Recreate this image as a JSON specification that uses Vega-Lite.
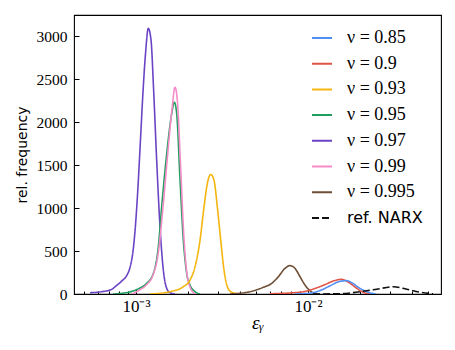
{
  "$schema": "https://vega.github.io/schema/vega-lite/v6.json",
  "width": 367,
  "height": 279,
  "autosize": {"type": "none"},
  "padding": {"left": 74, "top": 15, "right": 14, "bottom": 56},
  "background": "white",
  "config": {
    "view": {"stroke": "black", "strokeWidth": 1.1},
    "axis": {"domain": false, "grid": false, "tickColor": "black", "labelColor": "black", "titleColor": "black"}
  },
  "data": {
    "values": [
      {"s": "ν = 0.97", "x": 0.000540, "y": 15},
      {"s": "ν = 0.97", "x": 0.000632, "y": 27},
      {"s": "ν = 0.97", "x": 0.000722, "y": 54},
      {"s": "ν = 0.97", "x": 0.000772, "y": 100},
      {"s": "ν = 0.97", "x": 0.000826, "y": 150},
      {"s": "ν = 0.97", "x": 0.000883, "y": 215},
      {"s": "ν = 0.97", "x": 0.000923, "y": 310},
      {"s": "ν = 0.97", "x": 0.000961, "y": 500},
      {"s": "ν = 0.97", "x": 0.000993, "y": 800},
      {"s": "ν = 0.97", "x": 0.001027, "y": 1250},
      {"s": "ν = 0.97", "x": 0.001062, "y": 1800},
      {"s": "ν = 0.97", "x": 0.001098, "y": 2350},
      {"s": "ν = 0.97", "x": 0.001136, "y": 2800},
      {"s": "ν = 0.97", "x": 0.001179, "y": 3090},
      {"s": "ν = 0.97", "x": 0.001223, "y": 2950},
      {"s": "ν = 0.97", "x": 0.001264, "y": 2400},
      {"s": "ν = 0.97", "x": 0.001319, "y": 1550},
      {"s": "ν = 0.97", "x": 0.001379, "y": 780},
      {"s": "ν = 0.97", "x": 0.001441, "y": 280},
      {"s": "ν = 0.97", "x": 0.001508, "y": 66},
      {"s": "ν = 0.97", "x": 0.001577, "y": 15},
      {"s": "ν = 0.97", "x": 0.001685, "y": 0},

      {"s": "ν = 0.95", "x": 0.000735, "y": 0},
      {"s": "ν = 0.95", "x": 0.000923, "y": 25},
      {"s": "ν = 0.95", "x": 0.001055, "y": 70},
      {"s": "ν = 0.95", "x": 0.001154, "y": 124},
      {"s": "ν = 0.95", "x": 0.001261, "y": 240},
      {"s": "ν = 0.95", "x": 0.001348, "y": 549},
      {"s": "ν = 0.95", "x": 0.001410, "y": 1013},
      {"s": "ν = 0.95", "x": 0.001508, "y": 1632},
      {"s": "ν = 0.95", "x": 0.001613, "y": 2100},
      {"s": "ν = 0.95", "x": 0.001670, "y": 2231},
      {"s": "ν = 0.95", "x": 0.001724, "y": 2096},
      {"s": "ν = 0.95", "x": 0.001803, "y": 1322},
      {"s": "ν = 0.95", "x": 0.001884, "y": 626},
      {"s": "ν = 0.95", "x": 0.001971, "y": 240},
      {"s": "ν = 0.95", "x": 0.002061, "y": 104},
      {"s": "ν = 0.95", "x": 0.002203, "y": 27},
      {"s": "ν = 0.95", "x": 0.002356, "y": 0},

      {"s": "ν = 0.99", "x": 0.000948, "y": 0},
      {"s": "ν = 0.99", "x": 0.001055, "y": 50},
      {"s": "ν = 0.99", "x": 0.001154, "y": 110},
      {"s": "ν = 0.99", "x": 0.001261, "y": 230},
      {"s": "ν = 0.99", "x": 0.001348, "y": 480},
      {"s": "ν = 0.99", "x": 0.001426, "y": 950},
      {"s": "ν = 0.99", "x": 0.001524, "y": 1600},
      {"s": "ν = 0.99", "x": 0.001619, "y": 2150},
      {"s": "ν = 0.99", "x": 0.001685, "y": 2405},
      {"s": "ν = 0.99", "x": 0.001739, "y": 2250},
      {"s": "ν = 0.99", "x": 0.001815, "y": 1500},
      {"s": "ν = 0.99", "x": 0.001894, "y": 700},
      {"s": "ν = 0.99", "x": 0.001979, "y": 230},
      {"s": "ν = 0.99", "x": 0.002061, "y": 80},
      {"s": "ν = 0.99", "x": 0.002145, "y": 20},
      {"s": "ν = 0.99", "x": 0.002233, "y": 0},

      {"s": "ν = 0.93", "x": 0.001206, "y": 0},
      {"s": "ν = 0.93", "x": 0.001577, "y": 27},
      {"s": "ν = 0.93", "x": 0.001884, "y": 85},
      {"s": "ν = 0.93", "x": 0.002061, "y": 162},
      {"s": "ν = 0.93", "x": 0.002203, "y": 317},
      {"s": "ν = 0.93", "x": 0.002356, "y": 626},
      {"s": "ν = 0.93", "x": 0.002485, "y": 1013},
      {"s": "ν = 0.93", "x": 0.002597, "y": 1284},
      {"s": "ν = 0.93", "x": 0.002718, "y": 1390},
      {"s": "ν = 0.93", "x": 0.002841, "y": 1322},
      {"s": "ν = 0.93", "x": 0.002970, "y": 1013},
      {"s": "ν = 0.93", "x": 0.003108, "y": 626},
      {"s": "ν = 0.93", "x": 0.003248, "y": 278},
      {"s": "ν = 0.93", "x": 0.003395, "y": 85},
      {"s": "ν = 0.93", "x": 0.003601, "y": 20},
      {"s": "ν = 0.93", "x": 0.004024, "y": 0},

      {"s": "ν = 0.995", "x": 0.003520, "y": 0},
      {"s": "ν = 0.995", "x": 0.004601, "y": 27},
      {"s": "ν = 0.995", "x": 0.005497, "y": 78},
      {"s": "ν = 0.995", "x": 0.006152, "y": 124},
      {"s": "ν = 0.995", "x": 0.006720, "y": 201},
      {"s": "ν = 0.995", "x": 0.007348, "y": 298},
      {"s": "ν = 0.995", "x": 0.007858, "y": 330},
      {"s": "ν = 0.995", "x": 0.008402, "y": 298},
      {"s": "ν = 0.995", "x": 0.008984, "y": 201},
      {"s": "ν = 0.995", "x": 0.009607, "y": 104},
      {"s": "ν = 0.995", "x": 0.01027, "y": 38},
      {"s": "ν = 0.995", "x": 0.01098, "y": 5},
      {"s": "ν = 0.995", "x": 0.01174, "y": 0},

      {"s": "ν = 0.9", "x": 0.006013, "y": 3},
      {"s": "ν = 0.9", "x": 0.007858, "y": 12},
      {"s": "ν = 0.9", "x": 0.009607, "y": 30},
      {"s": "ν = 0.9", "x": 0.01098, "y": 65},
      {"s": "ν = 0.9", "x": 0.01256, "y": 110},
      {"s": "ν = 0.9", "x": 0.01397, "y": 150},
      {"s": "ν = 0.9", "x": 0.01570, "y": 170},
      {"s": "ν = 0.9", "x": 0.01708, "y": 140},
      {"s": "ν = 0.9", "x": 0.01851, "y": 90},
      {"s": "ν = 0.9", "x": 0.02006, "y": 40},
      {"s": "ν = 0.9", "x": 0.02145, "y": 12},
      {"s": "ν = 0.9", "x": 0.02293, "y": 0},

      {"s": "ν = 0.85", "x": 0.008402, "y": 0},
      {"s": "ν = 0.85", "x": 0.01027, "y": 10},
      {"s": "ν = 0.85", "x": 0.01174, "y": 40},
      {"s": "ν = 0.85", "x": 0.01342, "y": 95},
      {"s": "ν = 0.85", "x": 0.01494, "y": 140},
      {"s": "ν = 0.85", "x": 0.01679, "y": 155},
      {"s": "ν = 0.85", "x": 0.01803, "y": 130},
      {"s": "ν = 0.85", "x": 0.01953, "y": 80},
      {"s": "ν = 0.85", "x": 0.02145, "y": 35},
      {"s": "ν = 0.85", "x": 0.02356, "y": 8},
      {"s": "ν = 0.85", "x": 0.02485, "y": 0},

      {"s": "ref. NARX", "x": 0.01069, "y": 0},
      {"s": "ref. NARX", "x": 0.01535, "y": 3},
      {"s": "ref. NARX", "x": 0.02006, "y": 27},
      {"s": "ref. NARX", "x": 0.02507, "y": 55},
      {"s": "ref. NARX", "x": 0.03133, "y": 85},
      {"s": "ref. NARX", "x": 0.03749, "y": 55},
      {"s": "ref. NARX", "x": 0.04479, "y": 20},
      {"s": "ref. NARX", "x": 0.05330, "y": 3}
    ]
  },
  "mark": {"type": "line", "strokeWidth": 1.6, "interpolate": "monotone", "clip": true},
  "encoding": {
    "x": {
      "field": "x", "type": "quantitative",
      "scale": {"type": "log", "domain": [0.000436, 0.0593], "nice": false},
      "axis": {
        "title": "εᵧ",
        "titleFont": "Liberation Serif, serif", "titleFontStyle": "italic", "titleFontSize": 19, "titleFontWeight": "normal",
        "titleY": 34, "titleBaseline": "alphabetic",
        "values": [0.0005, 0.0006, 0.0007, 0.0008, 0.0009, 0.001, 0.002, 0.003, 0.004, 0.005, 0.006, 0.007, 0.008, 0.009, 0.01, 0.02, 0.03, 0.04, 0.05],
        "labelExpr": "datum.value == 0.001 ? '10⁻³' : (datum.value == 0.01 ? '10⁻²' : '')",
        "labelFont": "Liberation Serif, serif", "labelFontSize": 17,
        "labelOverlap": false,
        "labelFlush": false,
        "tickSize": {"condition": {"test": "datum.value == 0.001 || datum.value == 0.01", "value": -5}, "value": -3},
        "tickWidth": 1,
        "labelPadding": 9
      }
    },
    "y": {
      "field": "y", "type": "quantitative",
      "scale": {"domain": [0, 3245], "nice": false, "zero": true},
      "axis": {
        "title": "rel. frequency",
        "titleFont": "DejaVu Sans", "titleFontSize": 14, "titleFontWeight": "normal",
        "titleX": -48, "titleY": 139.5, "titleBaseline": "alphabetic", "titleAngle": -90, "titleAlign": "center",
        "values": [0, 500, 1000, 1500, 2000, 2500, 3000],
        "format": "d",
        "labelFont": "Liberation Serif, serif", "labelFontSize": 15.5,
        "tickSize": -5,
        "tickWidth": 1,
        "labelPadding": 12
      }
    },
    "color": {
      "field": "s", "type": "nominal",
      "scale": {
        "domain": ["ν = 0.85", "ν = 0.9", "ν = 0.93", "ν = 0.95", "ν = 0.97", "ν = 0.99", "ν = 0.995", "ref. NARX"],
        "range": ["#4f8ef2", "#e05446", "#f5b50f", "#1f9e60", "#6b44c6", "#f58cc8", "#6e4e35", "#111111"]
      },
      "legend": {
        "title": null, "orient": "none", "legendX": 237, "legendY": 12, "padding": 0,
        "symbolType": "stroke", "symbolSize": 400, "symbolStrokeWidth": 2,
        "labelFont": "Liberation Serif, serif", "labelFontSize": 18, "labelOffset": 14, "rowPadding": 5.7,
        "labelColor": "black",
        "encode": {"labels": {"update": {"font": {"signal": "datum.value === 'ref. NARX' ? 'DejaVu Sans' : 'Liberation Serif, serif'"}, "fontSize": {"signal": "datum.value === 'ref. NARX' ? 16 : 18"}}}}
      }
    },
    "strokeDash": {
      "field": "s", "type": "nominal",
      "scale": {
        "domain": ["ν = 0.85", "ν = 0.9", "ν = 0.93", "ν = 0.95", "ν = 0.97", "ν = 0.99", "ν = 0.995", "ref. NARX"],
        "range": [[1, 0], [1, 0], [1, 0], [1, 0], [1, 0], [1, 0], [1, 0], [7, 3]]
      },
      "legend": {
        "title": null, "orient": "none", "legendX": 237, "legendY": 12, "padding": 0,
        "symbolType": "stroke", "symbolSize": 400, "symbolStrokeWidth": 2,
        "labelFont": "Liberation Serif, serif", "labelFontSize": 18, "labelOffset": 14, "rowPadding": 5.7,
        "labelColor": "black",
        "encode": {"labels": {"update": {"font": {"signal": "datum.value === 'ref. NARX' ? 'DejaVu Sans' : 'Liberation Serif, serif'"}, "fontSize": {"signal": "datum.value === 'ref. NARX' ? 16 : 18"}}}}
      }
    }
  }
}
